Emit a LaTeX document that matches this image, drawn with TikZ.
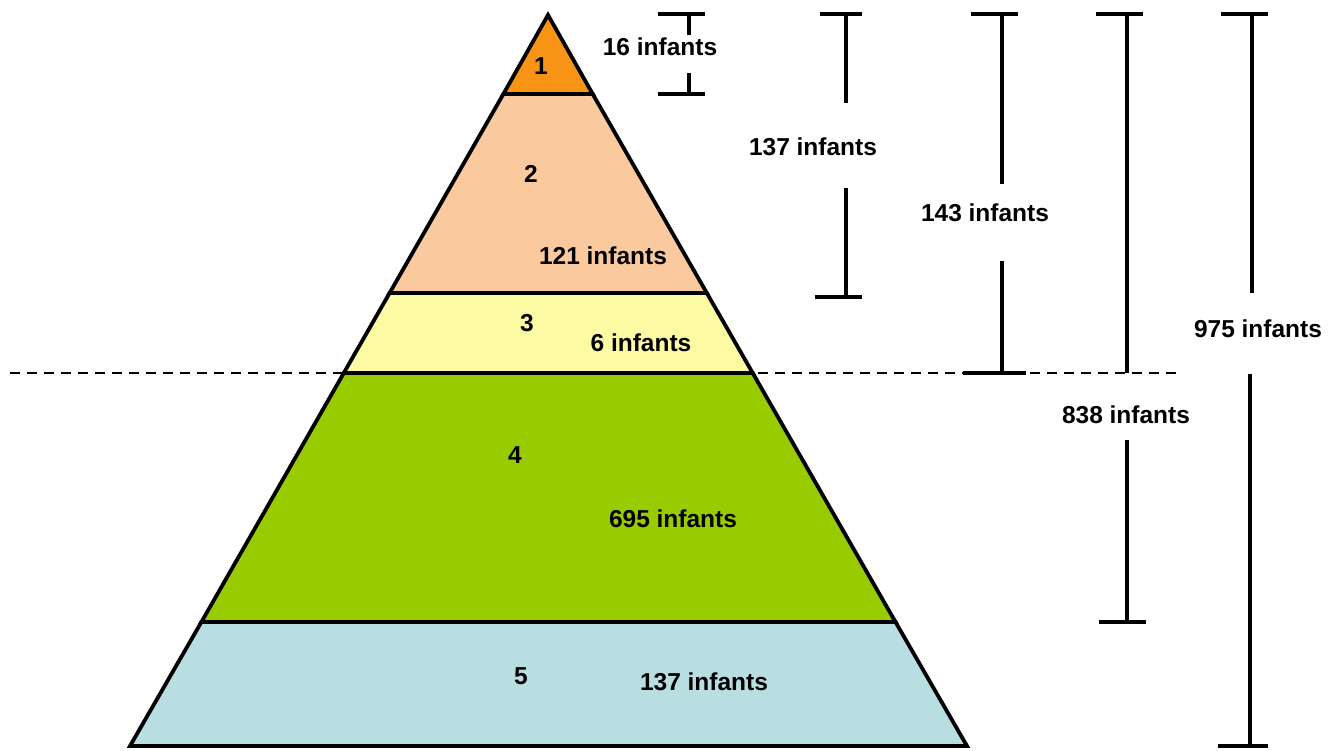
\documentclass[tikz,border=0pt]{standalone}
\usepackage{fontspec}
\setmainfont{Liberation Sans}
\definecolor{cone}{RGB}{247,148,22}
\definecolor{ctwo}{RGB}{250,201,158}
\definecolor{cthree}{RGB}{252,250,162}
\definecolor{cfour}{RGB}{153,204,0}
\definecolor{cfive}{RGB}{184,222,226}
\begin{document}
\begin{tikzpicture}[x=1pt,y=-1pt,
  lbl/.style={font=\fontsize{24.5}{28}\selectfont\bfseries, inner sep=0pt},
  layer/.style={draw=black, line width=3.8pt, line join=miter},
  bar/.style={draw=black, line width=3.6pt},
  guide/.style={draw=black, line width=2pt, dash pattern=on 10pt off 7pt}]
\useasboundingbox (0,0) rectangle (1336,750);
% dashed separator (behind pyramid)
\coordinate (dl) at (10,373);
\coordinate (dr) at (1178,373);
\draw[guide] (dl) -- (dr);
% layers
\coordinate (apex) at (548,15);
\coordinate (a1l) at (503.4,94);  \coordinate (a1r) at (592.7,94);
\coordinate (a2l) at (389.6,293); \coordinate (a2r) at (706.8,293);
\coordinate (a3l) at (343.8,373); \coordinate (a3r) at (752.7,373);
\coordinate (a4l) at (201.4,622); \coordinate (a4r) at (895.5,622);
\coordinate (bl) at (130,746);    \coordinate (br) at (967,746);
\filldraw[layer, fill=cfive] (a4l) -- (a4r) -- (br) -- (bl) -- cycle;
\filldraw[layer, fill=cfour] (a3l) -- (a3r) -- (a4r) -- (a4l) -- cycle;
\filldraw[layer, fill=cthree] (a2l) -- (a2r) -- (a3r) -- (a3l) -- cycle;
\filldraw[layer, fill=ctwo] (a1l) -- (a1r) -- (a2r) -- (a2l) -- cycle;
\filldraw[layer, fill=cone] (apex) -- (a1r) -- (a1l) -- cycle;
% layer labels
\node[lbl] (n1) at (541,66) {1};
\node[lbl] (n2) at (531,174) {2};
\node[lbl] (t2) at (603,256) {121 infants};
\node[lbl] (n3) at (527,323) {3};
\node[lbl] (t3) at (641,343) {6 infants};
\node[lbl] (n4) at (515,455) {4};
\node[lbl] (t4) at (673,519) {695 infants};
\node[lbl] (n5) at (521,676) {5};
\node[lbl] (t5) at (704,682) {137 infants};
% bracket labels
\node[lbl] (b1) at (660,47) {16 infants};
\node[lbl] (b2) at (813,147) {137 infants};
\node[lbl] (b3) at (985,213) {143 infants};
\node[lbl] (b4) at (1126,415) {838 infants};
\node[lbl] (b5) at (1258,329) {975 infants};
% bracket 1
\draw[bar] (658,14) -- (705,14);
\draw[bar] (689,14) -- (689,35);
\draw[bar] (689,73) -- (689,94);
\draw[bar] (658,94) -- (705,94);
% bracket 2
\draw[bar] (820,14) -- (862,14);
\draw[bar] (846,14) -- (846,103);
\draw[bar] (846,188) -- (846,297);
\draw[bar] (815,297) -- (862,297);
% bracket 3
\draw[bar] (971,14) -- (1018,14);
\draw[bar] (1002,14) -- (1002,184);
\draw[bar] (1002,261) -- (1002,373);
\draw[bar] (963,373) -- (1026,373);
% bracket 4
\draw[bar] (1096,14) -- (1143,14);
\draw[bar] (1127,14) -- (1127,373);
\draw[bar] (1127,440) -- (1127,622);
\draw[bar] (1099,622) -- (1146,622);
% bracket 5
\draw[bar] (1221,14) -- (1268,14);
\draw[bar] (1252,14) -- (1252,293);
\draw[bar] (1250,374) -- (1250,746);
\draw[bar] (1218,746) -- (1268,746);
\end{tikzpicture}
\end{document}
